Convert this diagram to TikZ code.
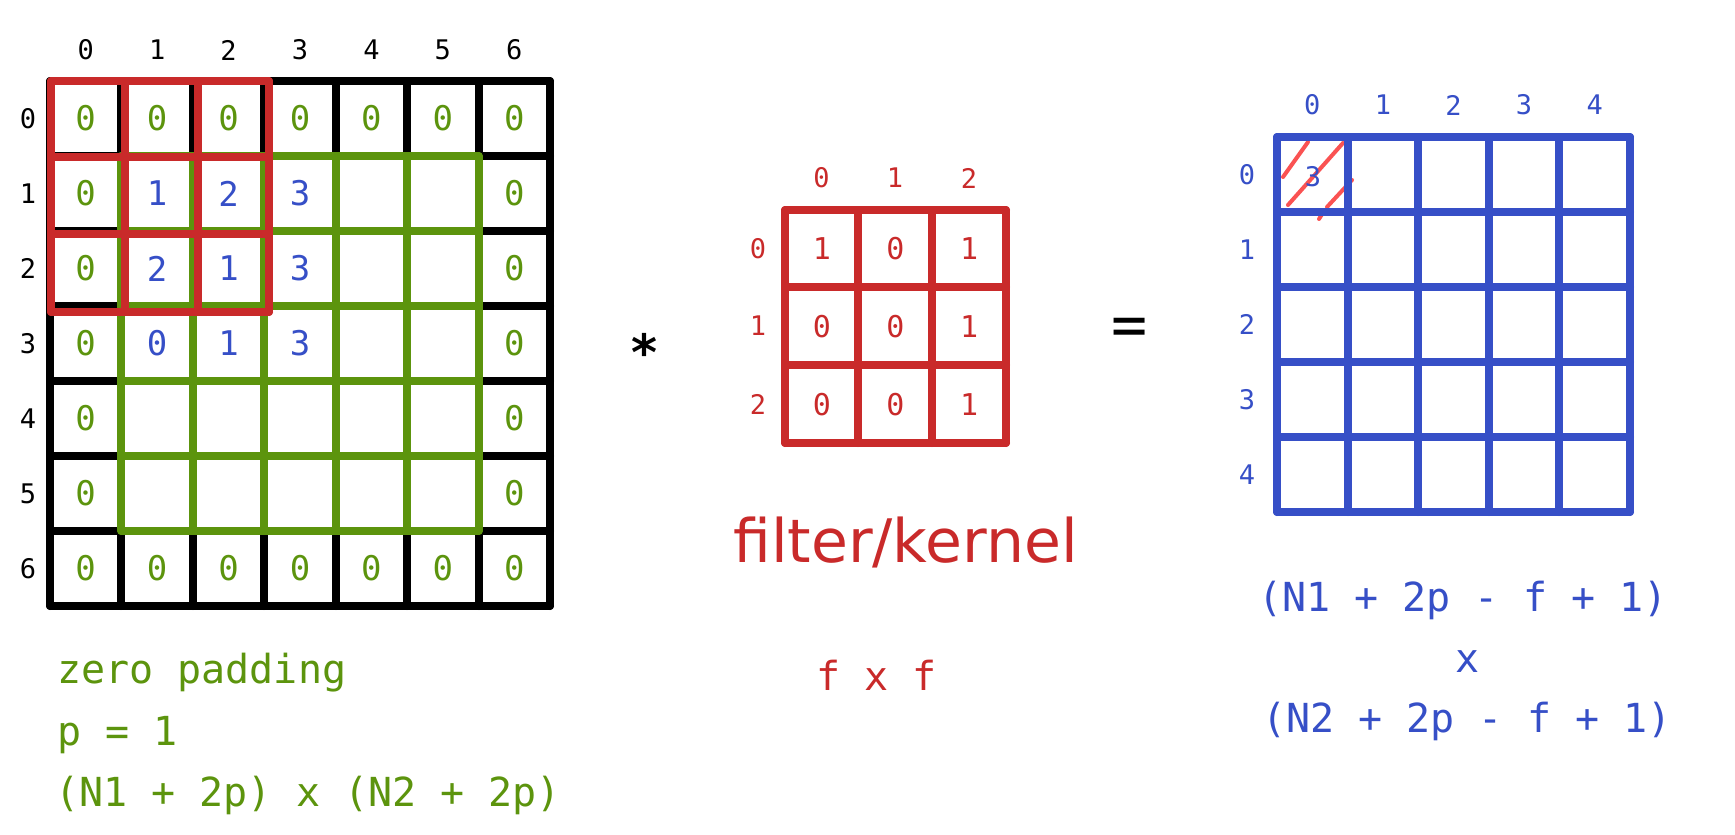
\documentclass[tikz,border=0pt]{standalone}
\usepackage{fontspec}
\setmainfont{DejaVu Sans Mono}
\newfontfamily\propfont{DejaVu Sans}
\definecolor{cgreen}{HTML}{5C940D}
\definecolor{cred}{HTML}{C92A2A}
\definecolor{cblue}{HTML}{364FC7}
\definecolor{chatch}{HTML}{FA5252}
\definecolor{cblack}{HTML}{000000}
\begin{document}
\begin{tikzpicture}[x=1pt,y=-1pt,
  gline/.style={line width=8pt,line cap=round},
  blkline/.style={gline,draw=cblack},
  grnline/.style={gline,draw=cgreen},
  redline/.style={gline,draw=cred},
  bluline/.style={gline,draw=cblue},
  lbl/.style={inner sep=0pt,font=\fontsize{27}{30}\selectfont},
  val/.style={inner sep=0pt,font=\fontsize{34}{40}\selectfont},
  kval/.style={inner sep=0pt,font=\fontsize{30}{36}\selectfont},
  txt/.style={inner sep=0pt,anchor=base west,font=\fontsize{40}{48}\selectfont}
]
\useasboundingbox (0,0) rectangle (1735,835);
\fill[white] (0,0) rectangle (1735,835);

% ---------- left padded input grid ----------
\foreach \i in {0,...,7}{
  \draw[blkline] ({50+71.43*\i},81) -- ({50+71.43*\i},606);
  \draw[blkline] (50,{81+75*\i}) -- (550,{81+75*\i});
}
\foreach \i in {1,...,6}{
  \draw[grnline] ({50+71.43*\i},156) -- ({50+71.43*\i},531);
  \draw[grnline] (121.43,{81+75*\i}) -- (478.57,{81+75*\i});
}
\foreach \x in {51,125,198,269} \draw[redline] (\x,81) -- (\x,312);
\foreach \y in {81,157,234,312} \draw[redline] (51,\y) -- (269,\y);

% column / row labels
\foreach \i in {0,...,6}{
  \node[lbl] (Lc\i) at ({50+71.43*(\i+0.5)},50) {\i};
  \node[lbl] (Lr\i) at (28,{81+75*(\i+0.5)}) {\i};
}
% green zeros on the border
\foreach \c in {0,...,6}{
  \node[val,text=cgreen] (LvT\c) at ({50+71.43*(\c+0.5)},{81+75*0.5}) {0};
  \node[val,text=cgreen] (LvB\c) at ({50+71.43*(\c+0.5)},{81+75*6.5}) {0};
}
\foreach \r in {1,...,5}{
  \node[val,text=cgreen] (LvL\r) at ({50+71.43*0.5},{81+75*(\r+0.5)}) {0};
  \node[val,text=cgreen] (LvR\r) at ({50+71.43*6.5},{81+75*(\r+0.5)}) {0};
}
% blue input values
\foreach \c/\r/\v in {1/1/1,2/1/2,3/1/3,1/2/2,2/2/1,3/2/3,1/3/0,2/3/1,3/3/3}{
  \node[val,text=cblue] (Lv\r\c) at ({50+71.43*(\c+0.5)},{81+75*(\r+0.5)}) {\v};
}

% ---------- operator * ----------
\node[inner sep=0pt,anchor=base,font=\fontsize{50}{60}\selectfont\bfseries] (star) at (645,370) {*};

% ---------- kernel ----------
\foreach \x in {785,858,932,1006} \draw[redline] (\x,210) -- (\x,443);
\foreach \y in {210,287,365,443} \draw[redline] (785,\y) -- (1006,\y);
\foreach \i/\cx in {0/821.5,1/895,2/969}{
  \node[lbl,text=cred] (Kc\i) at (\cx,178) {\i};
}
\foreach \i/\cy in {0/248.5,1/326,2/404}{
  \node[lbl,text=cred] (Kr\i) at (758,\cy) {\i};
}
\foreach \c/\r/\v in {0/0/1,1/0/0,2/0/1,0/1/0,1/1/0,2/1/1,0/2/0,1/2/0,2/2/1}{
  \node[kval,text=cred] (Kv\r\c) at ({785+73.67*(\c+0.5)},{210+77.67*(\r+0.5)}) {\v};
}

% ---------- operator = ----------
\node[inner sep=0pt,anchor=base,font=\fontsize{60}{70}\selectfont] (eq) at (1130,345) {=};

% ---------- output grid ----------
\draw[chatch,line width=4pt,line cap=round] (1283,177) -- (1308,142);
\draw[chatch,line width=4pt,line cap=round] (1288,205) -- (1343,143);
\draw[chatch,line width=4pt,line cap=round] (1327,207) -- (1352,180);
\draw[chatch,line width=4pt,line cap=round] (1324,211) -- (1319,219);
\foreach \i in {0,...,5}{
  \draw[bluline] ({1277+70.6*\i},137) -- ({1277+70.6*\i},512);
  \draw[bluline] (1277,{137+75*\i}) -- (1630,{137+75*\i});
}
\foreach \i in {0,...,4}{
  \node[lbl,text=cblue] (Oc\i) at ({1277+70.6*(\i+0.5)},105) {\i};
  \node[lbl,text=cblue] (Or\i) at (1247,{137+75*(\i+0.5)}) {\i};
}
\node[lbl,text=cblue] (Ov00) at (1313,177) {3};

% ---------- captions ----------
\node[txt,text=cgreen] (zp) at (57,683) {zero padding};
\node[txt,text=cgreen] (p1) at (57,745) {p = 1};
\node[txt,text=cgreen] (pdim) at (55,806) {(N1 + 2p) x (N2 + 2p)};

\node[inner sep=0pt,anchor=base west,text=cred,font=\propfont\fontsize{60}{70}\selectfont] (fk) at (733,562) {filter/kernel};
\node[txt,text=cred] (fxf) at (816,690) {f x f};

\node[txt,text=cblue] (o1) at (1258,611) {(N1 + 2p - f + 1)};
\node[inner sep=0pt,anchor=base,text=cblue,font=\fontsize{40}{48}\selectfont] (ox) at (1468,672) {x};
\node[txt,text=cblue] (o2) at (1262,732) {(N2 + 2p - f + 1)};
\end{tikzpicture}
\end{document}
